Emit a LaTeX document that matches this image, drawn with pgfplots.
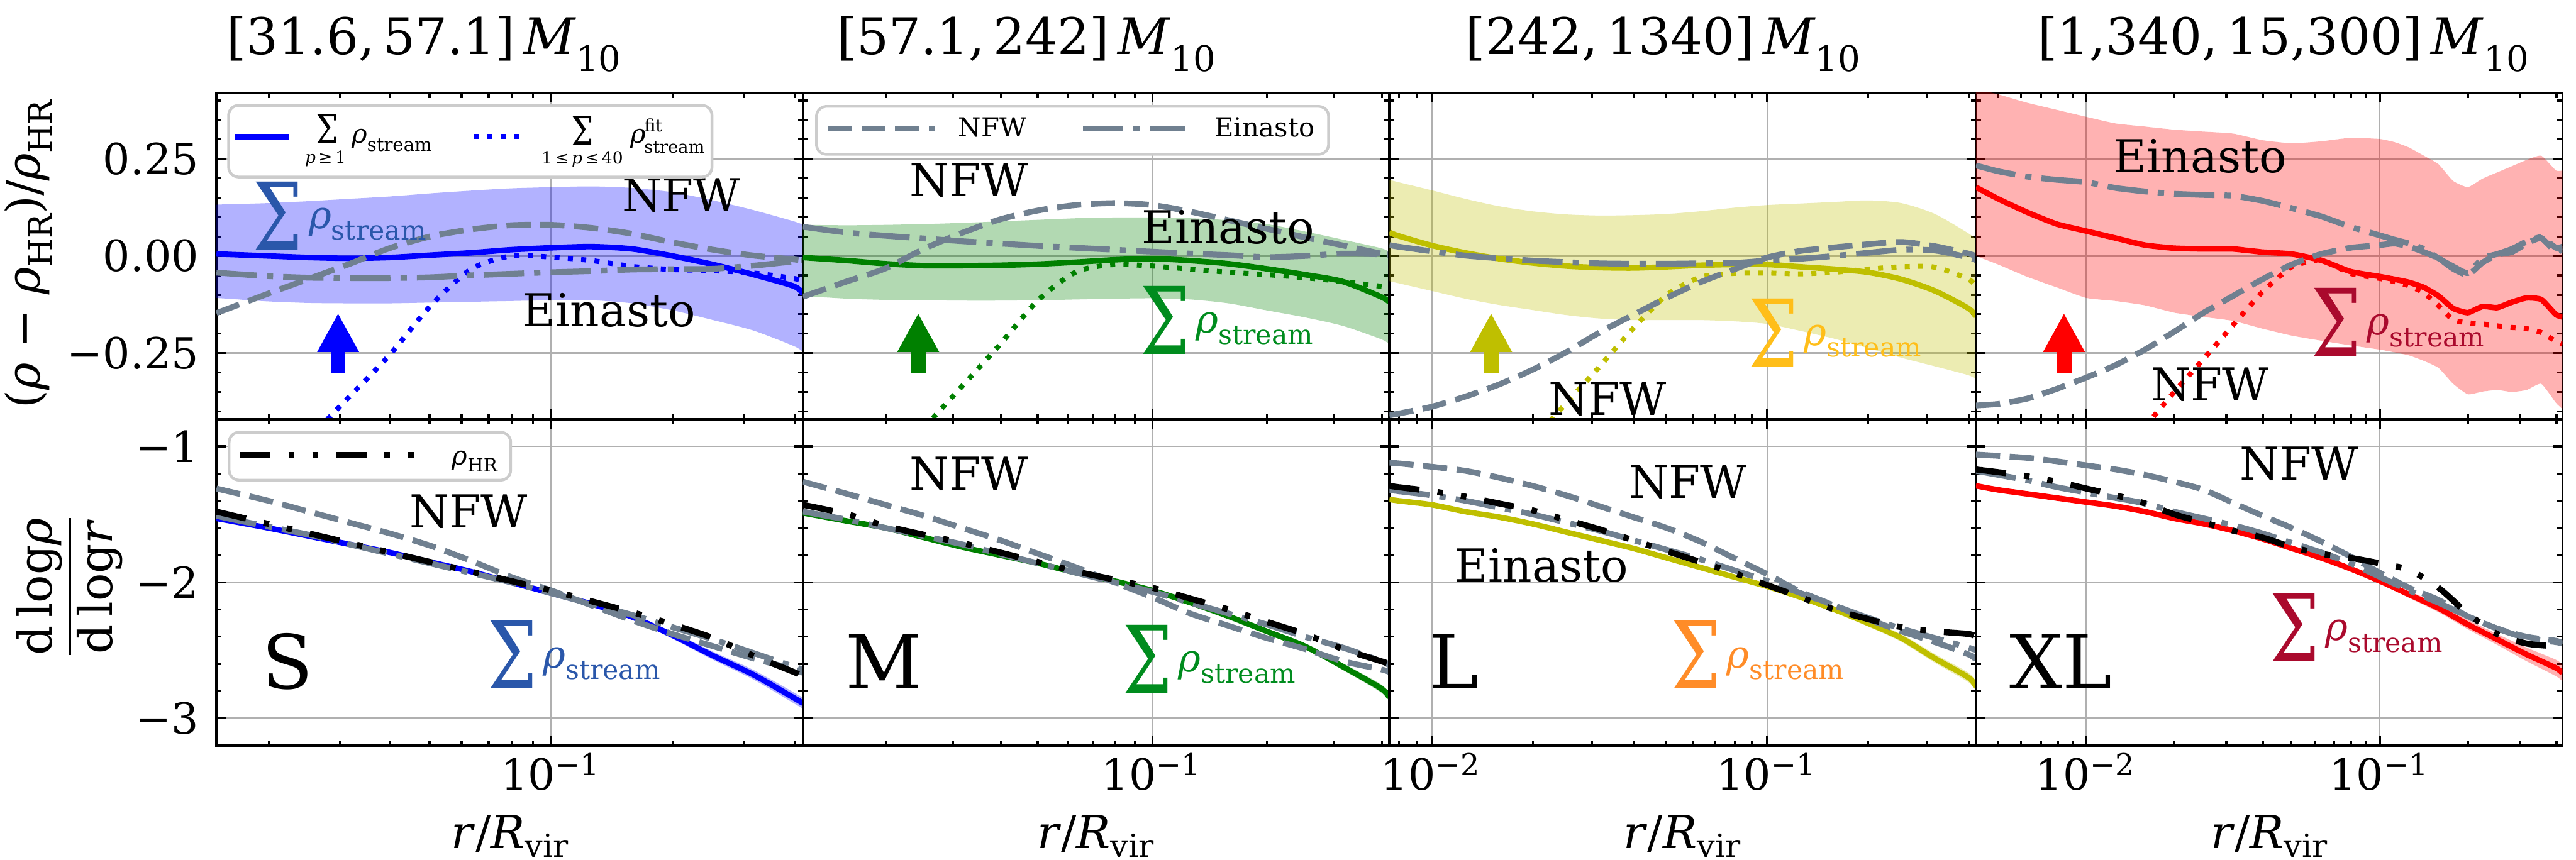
\documentclass[border=0pt]{standalone}
\usepackage{fontspec}
\setmainfont{DejaVu Serif}
\usepackage{graphicx}
\usepackage{pgfplots}
\pgfplotsset{compat=1.18}
\usepackage{pgfplotstable}
\usetikzlibrary{arrows.meta}

\definecolor{sgray}{RGB}{112,128,144}
\definecolor{cblue}{RGB}{0,0,255}
\definecolor{cgreen}{RGB}{0,128,0}
\definecolor{colive}{RGB}{191,191,0}
\definecolor{cred}{RGB}{255,0,0}
\definecolor{lblue}{RGB}{42,87,170}
\definecolor{lgreen}{RGB}{0,140,30}
\definecolor{lgold}{RGB}{255,190,25}
\definecolor{lorange}{RGB}{255,140,40}
\definecolor{lcrimson}{RGB}{170,10,45}
\definecolor{gridc}{RGB}{176,176,176}
\definecolor{legc}{RGB}{204,204,204}

\tikzset{
  nfw/.style={sgray, line width=1.15pt, dash pattern=on 4.8pt off 1.9pt},
  ein/.style={sgray, line width=1.15pt, dash pattern=on 8pt off 2pt on 1.25pt off 2pt},
  hr/.style={black, line width=1.2pt, dash pattern=on 6pt off 3.6pt on 1.1pt off 3.6pt on 1.1pt off 3.6pt},
  fitl/.style={line width=1.0pt, dash pattern=on 1pt off 1.65pt},
  suml/.style={line width=1.1pt},
  upar/.style={line width=2.9pt, -{Triangle[width=7.7pt,length=7.7pt]}},
}

% relative density deviation, S bin
\pgfplotstableread{
x up lo sum fit nfw ein
0.01486 0.132 -0.108 0.005 nan -0.147 -0.043
0.01585 0.133 -0.110 0.004 nan -0.136 -0.045
0.01995 0.136 -0.117 0.000 nan -0.097 -0.052
0.02512 0.141 -0.121 -0.004 -0.470 -0.059 -0.056
0.03162 0.147 -0.122 -0.006 -0.363 -0.021 -0.057
0.03981 0.153 -0.122 -0.004 -0.255 0.020 -0.057
0.05012 0.161 -0.120 0.002 -0.130 0.050 -0.055
0.06310 0.168 -0.118 0.008 -0.035 0.068 -0.050
0.07943 0.174 -0.116 0.016 0.000 0.079 -0.046
0.1000 0.177 -0.114 0.021 -0.003 0.080 -0.042
0.1259 0.179 -0.114 0.024 -0.012 0.072 -0.039
0.1585 0.175 -0.122 0.018 -0.027 0.057 -0.035
0.1995 0.164 -0.140 0.000 -0.035 0.035 -0.034
0.2512 0.143 -0.165 -0.022 -0.038 0.016 -0.033
0.3162 0.118 -0.192 -0.048 -0.044 0.001 -0.025
0.3981 0.089 -0.232 -0.078 -0.058 -0.009 -0.014
0.4190 0.080 -0.247 -0.098 -0.065 -0.012 -0.011
}\ponetop

% logarithmic slope, S bin
\pgfplotstableread{
x sum hw hr nfw ein
0.01486 -1.530 0.015 -1.48 -1.31 -1.51
0.01585 -1.545 0.015 -1.50 -1.33 -1.53
0.01995 -1.600 0.015 -1.57 -1.40 -1.59
0.02512 -1.660 0.015 -1.64 -1.48 -1.65
0.03162 -1.720 0.015 -1.71 -1.56 -1.72
0.03981 -1.780 0.015 -1.78 -1.64 -1.79
0.05012 -1.850 0.015 -1.85 -1.73 -1.86
0.06310 -1.920 0.015 -1.92 -1.84 -1.93
0.07943 -2.000 0.015 -1.99 -1.96 -2.00
0.1000 -2.080 0.016 -2.06 -2.06 -2.08
0.1259 -2.160 0.018 -2.14 -2.17 -2.16
0.1585 -2.255 0.020 -2.22 -2.28 -2.24
0.1995 -2.390 0.025 -2.31 -2.38 -2.33
0.2512 -2.540 0.030 -2.41 -2.47 -2.42
0.3162 -2.680 0.035 -2.54 -2.56 -2.52
0.3981 -2.850 0.040 -2.66 -2.64 -2.62
0.4190 -2.890 0.040 -2.69 -2.67 -2.64
}\ponebot

% M bin
\pgfplotstableread{
x up lo sum fit nfw ein
0.01211 0.080 -0.103 -0.004 nan -0.105 0.075
0.01585 0.079 -0.110 -0.012 nan -0.065 0.060
0.01995 0.080 -0.113 -0.020 nan -0.032 0.052
0.02512 0.082 -0.114 -0.025 -0.443 0.018 0.045
0.03162 0.085 -0.115 -0.025 -0.336 0.059 0.038
0.03981 0.089 -0.115 -0.024 -0.228 0.094 0.032
0.05012 0.093 -0.114 -0.021 -0.114 0.117 0.026
0.06310 0.097 -0.112 -0.016 -0.041 0.131 0.021
0.07943 0.099 -0.110 -0.010 -0.022 0.136 0.016
0.1000 0.099 -0.109 -0.007 -0.026 0.131 0.011
0.1259 0.097 -0.112 -0.012 -0.034 0.114 0.006
0.1585 0.092 -0.122 -0.020 -0.042 0.092 0.002
0.1995 0.082 -0.140 -0.033 -0.048 0.070 -0.003
0.2512 0.063 -0.158 -0.048 -0.056 0.048 0.000
0.3162 0.042 -0.180 -0.066 -0.066 0.027 0.006
0.3981 0.020 -0.214 -0.105 -0.078 0.006 0.004
0.4190 0.010 -0.227 -0.119 -0.081 0.000 0.003
}\ptwotop

\pgfplotstableread{
x sum hw hr nfw ein
0.01211 -1.49 0.012 -1.43 -1.26 -1.48
0.01585 -1.55 0.012 -1.50 -1.35 -1.54
0.01995 -1.60 0.012 -1.585 -1.43 -1.60
0.02512 -1.67 0.012 -1.65 -1.51 -1.66
0.03162 -1.74 0.012 -1.71 -1.60 -1.72
0.03981 -1.80 0.012 -1.78 -1.69 -1.79
0.05012 -1.86 0.012 -1.85 -1.79 -1.86
0.06310 -1.93 0.012 -1.92 -1.89 -1.93
0.07943 -1.99 0.012 -1.98 -2.00 -2.00
0.1000 -2.06 0.013 -2.04 -2.11 -2.07
0.1259 -2.15 0.015 -2.12 -2.23 -2.15
0.1585 -2.25 0.017 -2.20 -2.32 -2.23
0.1995 -2.36 0.020 -2.29 -2.41 -2.31
0.2512 -2.47 0.022 -2.38 -2.49 -2.40
0.3162 -2.62 0.025 -2.49 -2.58 -2.48
0.3981 -2.78 0.030 -2.58 -2.64 -2.58
0.4190 -2.85 0.030 -2.60 -2.66 -2.61
}\ptwobot

% L bin
\pgfplotstableread{
x up lo sum fit nfw ein
0.00748 0.196 -0.065 0.061 nan -0.410 0.028
0.007943 0.190 -0.070 0.052 nan -0.406 0.024
0.01000 0.169 -0.090 0.027 nan -0.388 0.012
0.01259 0.147 -0.110 0.008 nan -0.362 0.001
0.01585 0.128 -0.126 -0.007 nan -0.331 -0.006
0.01995 0.115 -0.139 -0.018 -0.475 -0.293 -0.012
0.02512 0.107 -0.152 -0.026 -0.380 -0.248 -0.016
0.03162 0.104 -0.161 -0.030 -0.285 -0.197 -0.019
0.03981 0.105 -0.165 -0.031 -0.187 -0.152 -0.020
0.05012 0.108 -0.165 -0.028 -0.101 -0.108 -0.020
0.06310 0.115 -0.165 -0.024 -0.055 -0.068 -0.019
0.07943 0.124 -0.168 -0.022 -0.045 -0.035 -0.018
0.1000 0.131 -0.175 -0.022 -0.044 -0.004 -0.012
0.1259 0.135 -0.193 -0.028 -0.046 0.013 -0.007
0.1585 0.139 -0.213 -0.034 -0.042 0.022 0.000
0.1995 0.143 -0.237 -0.042 -0.034 0.030 0.008
0.2512 0.136 -0.262 -0.060 -0.028 0.036 0.016
0.3162 0.108 -0.284 -0.090 -0.029 0.025 0.014
0.3981 0.058 -0.307 -0.135 -0.060 0.006 -0.004
0.4190 0.042 -0.318 -0.157 -0.081 -0.001 -0.011
}\pthreetop

\pgfplotstableread{
x sum hw hr nfw ein
0.00748 -1.39 0.015 -1.29 -1.12 -1.32
0.007943 -1.40 0.015 -1.30 -1.125 -1.33
0.01000 -1.43 0.015 -1.33 -1.15 -1.36
0.01259 -1.48 0.015 -1.37 -1.18 -1.40
0.01585 -1.52 0.015 -1.42 -1.23 -1.45
0.01995 -1.57 0.015 -1.47 -1.29 -1.50
0.02512 -1.63 0.015 -1.54 -1.36 -1.56
0.03162 -1.69 0.015 -1.61 -1.44 -1.62
0.03981 -1.75 0.015 -1.69 -1.52 -1.69
0.05012 -1.82 0.015 -1.77 -1.60 -1.76
0.06310 -1.89 0.015 -1.85 -1.70 -1.83
0.07943 -1.96 0.015 -1.93 -1.82 -1.91
0.1000 -2.03 0.016 -2.02 -1.94 -1.99
0.1259 -2.11 0.018 -2.11 -2.07 -2.08
0.1585 -2.20 0.020 -2.20 -2.17 -2.17
0.1995 -2.30 0.024 -2.27 -2.27 -2.26
0.2512 -2.41 0.028 -2.33 -2.36 -2.34
0.3162 -2.56 0.032 -2.36 -2.44 -2.41
0.3981 -2.70 0.035 -2.38 -2.53 -2.48
0.4190 -2.77 0.035 -2.40 -2.57 -2.50
}\pthreebot

% XL bin
\pgfplotstableread{
x up lo sum fit nfw ein
0.00421 0.430 0.000 0.177 nan -0.385 0.233
0.005012 0.416 -0.022 0.147 nan -0.381 0.218
0.00631 0.394 -0.054 0.112 nan -0.367 0.204
0.007943 0.376 -0.081 0.082 nan -0.342 0.196
0.01000 0.358 -0.108 0.064 nan -0.313 0.190
0.01259 0.341 -0.116 0.046 nan -0.281 0.175
0.01585 0.333 -0.127 0.028 -0.440 -0.241 0.166
0.01995 0.325 -0.146 0.020 -0.350 -0.195 0.160
0.02512 0.320 -0.157 0.018 -0.265 -0.146 0.157
0.03162 0.315 -0.167 0.018 -0.178 -0.103 0.155
0.03981 0.298 -0.187 0.010 -0.093 -0.060 0.142
0.05012 0.290 -0.205 0.005 -0.028 -0.022 0.123
0.06310 0.295 -0.218 -0.011 -0.010 0.005 0.102
0.07943 0.304 -0.230 -0.040 -0.045 0.021 0.075
0.1000 0.301 -0.241 -0.053 -0.058 0.028 0.053
0.1122 0.293 -0.248 -0.060 -0.066 0.032 0.042
0.1259 0.279 -0.256 -0.068 -0.077 0.024 0.032
0.1413 0.258 -0.270 -0.081 -0.095 0.010 0.018
0.1585 0.236 -0.288 -0.103 -0.128 -0.006 -0.006
0.1778 0.193 -0.329 -0.135 -0.165 -0.033 -0.027
0.1995 0.177 -0.356 -0.146 -0.172 -0.049 -0.044
0.2239 0.199 -0.349 -0.130 -0.175 -0.017 -0.006
0.2512 0.215 -0.345 -0.133 -0.180 0.003 0.005
0.2818 0.231 -0.350 -0.119 -0.184 0.010 0.018
0.3162 0.247 -0.345 -0.108 -0.187 0.032 0.037
0.3548 0.258 -0.329 -0.112 -0.197 0.046 0.048
0.3981 0.220 -0.378 -0.151 -0.220 0.010 0.021
0.4190 0.220 -0.394 -0.157 -0.227 0.018 0.024
}\pfourtop

\pgfplotstableread{
x sum hw hr nfw ein
0.00421 -1.29 0.02 -1.17 -1.06 -1.18
0.005012 -1.32 0.02 -1.19 -1.07 -1.21
0.00631 -1.35 0.02 -1.22 -1.085 -1.25
0.007943 -1.38 0.02 -1.26 -1.11 -1.30
0.01000 -1.41 0.02 -1.31 -1.14 -1.34
0.01259 -1.44 0.02 -1.36 -1.17 -1.38
0.01585 -1.48 0.02 -1.42 -1.21 -1.42
0.01995 -1.53 0.02 -1.50 -1.26 -1.48
0.02512 -1.57 0.02 -1.56 -1.32 -1.53
0.03162 -1.62 0.02 -1.62 -1.415 -1.58
0.03981 -1.68 0.02 -1.67 -1.51 -1.64
0.05012 -1.75 0.02 -1.74 -1.60 -1.71
0.06310 -1.82 0.02 -1.79 -1.70 -1.78
0.07943 -1.90 0.02 -1.82 -1.81 -1.86
0.1000 -1.99 0.02 -1.86 -1.93 -1.96
0.1259 -2.09 0.025 -1.91 -2.04 -2.06
0.1585 -2.19 0.03 -2.04 -2.13 -2.15
0.1995 -2.31 0.035 -2.23 -2.25 -2.25
0.2512 -2.42 0.04 -2.38 -2.34 -2.34
0.3162 -2.53 0.05 -2.45 -2.40 -2.41
0.3981 -2.63 0.06 -2.47 -2.43 -2.44
0.4190 -2.67 0.06 -2.47 -2.45 -2.45
}\pfourbot

% lowered, shrunk subscript
\newcommand\sub[2]{\raisebox{-#1}{\scalebox{0.7}{#2}}}
% large summation sign followed by rho_stream
\newcommand\sumrho{\raisebox{-4.2pt}{\scalebox{0.75}[1]{\fontsize{18.5}{18.5}\selectfont Σ}}\hspace{1.2pt}{\fontsize{7.6}{7.6}\selectfont\textit{ρ}\sub{0.3em}{stream}}}

% panel openers: #1 left edge, #2 xmin, #3 xtick list, #4 further keys
\newcommand\opentop[4]{\begin{axis}[
    scale only axis, width=116.23pt, height=64.7pt, anchor=south west,
    xmode=log, xmax=0.419, xmin=#2, at={(#1,87.3pt)},
    ymin=-0.42, ymax=0.42, ytick={-0.25,0,0.25},
    minor ytick={-0.4,-0.35,-0.3,-0.2,-0.15,-0.1,-0.05,0.05,0.1,0.15,0.2,0.3,0.35,0.4},
    xtick={#3},
    minor xtick={0.005,0.006,0.007,0.008,0.009,0.02,0.03,0.04,0.05,0.06,0.07,0.08,0.09,0.2,0.3,0.4},
    axis line style={line width=0.45pt},
    tick style={black, line width=0.4pt},
    major tick length=1.9pt, minor tick length=1pt,
    tick align=inside, xtick pos=both, ytick pos=both,
    grid=major, major grid style={gridc, line width=0.35pt},
    tick label style={font=\fontsize{8.5}{8.5}\selectfont},
    xticklabels={}, yticklabels={}, #4]}
\newcommand\openbot[4]{\begin{axis}[
    scale only axis, width=116.23pt, height=64.7pt, anchor=south west,
    xmode=log, xmax=0.419, xmin=#2, at={(#1,22.6pt)},
    ymin=-3.2, ymax=-0.8, ytick={-3,-2,-1},
    minor ytick={-2.8,-2.6,-2.4,-2.2,-1.8,-1.6,-1.4,-1.2},
    xtick={#3},
    minor xtick={0.005,0.006,0.007,0.008,0.009,0.02,0.03,0.04,0.05,0.06,0.07,0.08,0.09,0.2,0.3,0.4},
    axis line style={line width=0.45pt},
    tick style={black, line width=0.4pt},
    major tick length=1.9pt, minor tick length=1pt,
    tick align=inside, xtick pos=both, ytick pos=both,
    grid=major, major grid style={gridc, line width=0.35pt},
    tick label style={font=\fontsize{8.5}{8.5}\selectfont},
    xticklabel style={anchor=base, yshift=-8.8pt},
    yticklabels={}, #4]}

\begin{document}
\begin{tikzpicture}
\useasboundingbox (0pt,0pt) rectangle (510.5pt,170.4pt);

% ---------------- S ----------------
\opentop{42.9pt}{0.01486}{0.1}{yticklabels={−0.25,0.00,0.25}}
  \addplot[draw=none, stack plots=y, forget plot, smooth, tension=0.45] table[x=x,y=lo]{\ponetop};
  \addplot[fill=cblue, fill opacity=0.3, draw=none, stack plots=y, smooth, tension=0.45] table[x=x,y expr=\thisrow{up}-\thisrow{lo}]{\ponetop} \closedcycle;
  \addplot[cblue, suml, smooth, tension=0.45] table[x=x,y=sum]{\ponetop};
  \addplot[cblue, fitl, smooth, tension=0.45] table[x=x,y=fit]{\ponetop};
  \addplot[nfw, smooth, tension=0.45] table[x=x,y=nfw]{\ponetop};
  \addplot[ein, smooth, tension=0.45] table[x=x,y=ein]{\ponetop};
  \draw[cblue, upar] (axis cs:0.0297,-0.303) -- (axis cs:0.0297,-0.147);
\end{axis}
\openbot{42.9pt}{0.01486}{0.1}{xticklabels={10\textsuperscript{−1}}, yticklabels={−3,−2,−1}}
  \addplot[draw=none, stack plots=y, forget plot, smooth] table[x=x,y expr=\thisrow{sum}-\thisrow{hw}]{\ponebot};
  \addplot[fill=cblue, fill opacity=0.3, draw=none, stack plots=y, smooth] table[x=x,y expr=2*\thisrow{hw}]{\ponebot} \closedcycle;
  \addplot[cblue, suml, smooth] table[x=x,y=sum]{\ponebot};
  \addplot[nfw, smooth] table[x=x,y=nfw]{\ponebot};
  \addplot[ein, smooth] table[x=x,y=ein]{\ponebot};
  \addplot[hr, smooth] table[x=x,y=hr]{\ponebot};
\end{axis}

% ---------------- M ----------------
\opentop{159.125pt}{0.01211}{0.1}{}
  \addplot[draw=none, stack plots=y, forget plot, smooth, tension=0.45] table[x=x,y=lo]{\ptwotop};
  \addplot[fill=cgreen, fill opacity=0.3, draw=none, stack plots=y, smooth, tension=0.45] table[x=x,y expr=\thisrow{up}-\thisrow{lo}]{\ptwotop} \closedcycle;
  \addplot[cgreen, suml, smooth, tension=0.45] table[x=x,y=sum]{\ptwotop};
  \addplot[cgreen, fitl, smooth, tension=0.45] table[x=x,y=fit]{\ptwotop};
  \addplot[nfw, smooth, tension=0.45] table[x=x,y=nfw]{\ptwotop};
  \addplot[ein, smooth, tension=0.45] table[x=x,y=ein]{\ptwotop};
  \draw[cgreen, upar] (axis cs:0.0243,-0.303) -- (axis cs:0.0243,-0.147);
\end{axis}
\openbot{159.125pt}{0.01211}{0.1}{xticklabels={10\textsuperscript{−1}}}
  \addplot[draw=none, stack plots=y, forget plot, smooth] table[x=x,y expr=\thisrow{sum}-\thisrow{hw}]{\ptwobot};
  \addplot[fill=cgreen, fill opacity=0.3, draw=none, stack plots=y, smooth] table[x=x,y expr=2*\thisrow{hw}]{\ptwobot} \closedcycle;
  \addplot[cgreen, suml, smooth] table[x=x,y=sum]{\ptwobot};
  \addplot[nfw, smooth] table[x=x,y=nfw]{\ptwobot};
  \addplot[ein, smooth] table[x=x,y=ein]{\ptwobot};
  \addplot[hr, smooth] table[x=x,y=hr]{\ptwobot};
\end{axis}

% ---------------- L ----------------
\opentop{275.35pt}{0.00748}{0.01,0.1}{}
  \addplot[draw=none, stack plots=y, forget plot, smooth, tension=0.45] table[x=x,y=lo]{\pthreetop};
  \addplot[fill=colive, fill opacity=0.3, draw=none, stack plots=y, smooth, tension=0.45] table[x=x,y expr=\thisrow{up}-\thisrow{lo}]{\pthreetop} \closedcycle;
  \addplot[colive, suml, smooth, tension=0.45] table[x=x,y=sum]{\pthreetop};
  \addplot[colive, fitl, smooth, tension=0.45] table[x=x,y=fit]{\pthreetop};
  \addplot[nfw, smooth, tension=0.45] table[x=x,y=nfw]{\pthreetop};
  \addplot[ein, smooth, tension=0.45] table[x=x,y=ein]{\pthreetop};
  \draw[colive, upar] (axis cs:0.01503,-0.303) -- (axis cs:0.01503,-0.147);
\end{axis}
\openbot{275.35pt}{0.00748}{0.01,0.1}{xticklabels={10\textsuperscript{−2},10\textsuperscript{−1}}}
  \addplot[draw=none, stack plots=y, forget plot, smooth] table[x=x,y expr=\thisrow{sum}-\thisrow{hw}]{\pthreebot};
  \addplot[fill=colive, fill opacity=0.3, draw=none, stack plots=y, smooth] table[x=x,y expr=2*\thisrow{hw}]{\pthreebot} \closedcycle;
  \addplot[colive, suml, smooth] table[x=x,y=sum]{\pthreebot};
  \addplot[nfw, smooth] table[x=x,y=nfw]{\pthreebot};
  \addplot[ein, smooth] table[x=x,y=ein]{\pthreebot};
  \addplot[hr, smooth] table[x=x,y=hr]{\pthreebot};
\end{axis}

% ---------------- XL ----------------
\opentop{391.575pt}{0.00421}{0.01,0.1}{}
  \addplot[draw=none, stack plots=y, forget plot, smooth, tension=0.3] table[x=x,y=lo]{\pfourtop};
  \addplot[fill=cred, fill opacity=0.3, draw=none, stack plots=y, smooth, tension=0.3] table[x=x,y expr=\thisrow{up}-\thisrow{lo}]{\pfourtop} \closedcycle;
  \addplot[cred, suml, smooth, tension=0.3] table[x=x,y=sum]{\pfourtop};
  \addplot[cred, fitl, smooth, tension=0.3] table[x=x,y=fit]{\pfourtop};
  \addplot[nfw, smooth, tension=0.3] table[x=x,y=nfw]{\pfourtop};
  \addplot[ein, smooth, tension=0.3] table[x=x,y=ein]{\pfourtop};
  \draw[cred, upar] (axis cs:0.0084,-0.303) -- (axis cs:0.0084,-0.147);
\end{axis}
\openbot{391.575pt}{0.00421}{0.01,0.1}{xticklabels={10\textsuperscript{−2},10\textsuperscript{−1}}}
  \addplot[draw=none, stack plots=y, forget plot, smooth] table[x=x,y expr=\thisrow{sum}-\thisrow{hw}]{\pfourbot};
  \addplot[fill=cred, fill opacity=0.3, draw=none, stack plots=y, smooth] table[x=x,y expr=2*\thisrow{hw}]{\pfourbot} \closedcycle;
  \addplot[cred, suml, smooth] table[x=x,y=sum]{\pfourbot};
  \addplot[nfw, smooth] table[x=x,y=nfw]{\pfourbot};
  \addplot[ein, smooth] table[x=x,y=ein]{\pfourbot};
  \addplot[hr, smooth] table[x=x,y=hr]{\pfourbot};
\end{axis}

% column titles
\begin{scope}[every node/.style={anchor=base, inner sep=0pt, font=\fontsize{10}{12}\selectfont}]
  \node at (84.0pt,159.6pt) {[31.6,\,57.1]\,\textit{M}\raisebox{-3.3pt}{\fontsize{7}{7}\selectfont 10}};
  \node at (203.4pt,159.6pt) {[57.1,\,242]\,\textit{M}\raisebox{-3.3pt}{\fontsize{7}{7}\selectfont 10}};
  \node at (329.6pt,159.6pt) {[242,\,1340]\,\textit{M}\raisebox{-3.3pt}{\fontsize{7}{7}\selectfont 10}};
  \node at (452.5pt,159.6pt) {[1,340,\,15,300]\,\textit{M}\raisebox{-3.3pt}{\fontsize{7}{7}\selectfont 10}};
\end{scope}

% axis labels
\begin{scope}[every node/.style={anchor=base, inner sep=0pt, font=\fontsize{9}{9}\selectfont}]
  \node at (101.05pt,2.2pt) {\textit{r}/\textit{R}\sub{0.2em}{vir}};
  \node at (217.1pt,2.2pt) {\textit{r}/\textit{R}\sub{0.2em}{vir}};
  \node at (333.35pt,2.2pt) {\textit{r}/\textit{R}\sub{0.2em}{vir}};
  \node at (449.65pt,2.2pt) {\textit{r}/\textit{R}\sub{0.2em}{vir}};
\end{scope}
\node[rotate=90, inner sep=0pt, font=\fontsize{9.2}{9.2}\selectfont] at (5.6pt,120.0pt)
  {(\textit{ρ} − \textit{ρ}\sub{0.25em}{HR})/\textit{ρ}\sub{0.25em}{HR}};
\node[rotate=90, inner sep=0pt, font=\fontsize{9.2}{9.2}\selectfont] at (13.8pt,54.1pt)
  {$\displaystyle\frac{\mbox{d\,log\textit{ρ}}}{\mbox{d\,log\textit{r}}}$};

% curve annotations
\begin{scope}[every node/.style={anchor=base, inner sep=0pt, font=\fontsize{9}{9}\selectfont}]
  \node at (135.0pt,128.4pt) {NFW};
  \node at (120.7pt,105.6pt) {Einasto};
  \node at (192.0pt,131.5pt) {NFW};
  \node at (243.4pt,122.1pt) {Einasto};
  \node at (318.6pt,88.1pt) {NFW};
  \node at (436.0pt,136.2pt) {Einasto};
  \node at (438.0pt,91.0pt) {NFW};
  \node at (92.9pt,65.8pt) {NFW};
  \node at (192.0pt,73.2pt) {NFW};
  \node at (334.5pt,71.6pt) {NFW};
  \node at (305.5pt,55.0pt) {Einasto};
  \node at (455.6pt,75.3pt) {NFW};
\end{scope}
\begin{scope}[every node/.style={anchor=base, inner sep=0pt, font=\fontsize{14.8}{14.8}\selectfont}]
  \node at (57.0pt,33.8pt) {S};
  \node at (175.2pt,33.8pt) {M};
  \node at (288.2pt,33.8pt) {L};
  \node at (408.4pt,33.8pt) {XL};
\end{scope}
\begin{scope}[every node/.style={anchor=base west, inner sep=0pt}]
  \node[text=lblue] at (50.0pt,125.1pt) {\sumrho};
  \node[text=lblue] at (96.4pt,38.0pt) {\sumrho};
  \node[text=lgreen] at (225.8pt,104.4pt) {\sumrho};
  \node[text=lgreen] at (222.3pt,37.2pt) {\sumrho};
  \node[text=lgold] at (346.3pt,101.9pt) {\sumrho};
  \node[text=lorange] at (331.0pt,38.0pt) {\sumrho};
  \node[text=lcrimson] at (457.9pt,104.0pt) {\sumrho};
  \node[text=lcrimson] at (449.6pt,43.4pt) {\sumrho};
\end{scope}

% legend: stream sums
\draw[legc, line width=0.55pt, fill=white, rounded corners=2pt] (45.3pt,135.3pt) rectangle (141.1pt,149.5pt);
\draw[cblue, suml] (46.6pt,143.3pt) -- (57.2pt,143.3pt);
\draw[cblue, fitl] (93.9pt,143.3pt) -- (103.6pt,143.3pt);
\begin{scope}[every node/.style={inner sep=0pt}]
  \node[anchor=base west] at (62.4pt,141.9pt) {\scalebox{0.78}[1]{\fontsize{8}{8}\selectfont Σ}};
  \node[anchor=base, font=\fontsize{3.3}{3.3}\selectfont] at (64.5pt,138.1pt) {\textit{p}\,≥\,1};
  \node[anchor=base west, font=\fontsize{5.2}{5.2}\selectfont] at (69.5pt,142.0pt) {\textit{ρ}\sub{0.3em}{stream}};
  \node[anchor=base west] at (113.0pt,141.6pt) {\scalebox{0.78}[1]{\fontsize{8}{8}\selectfont Σ}};
  \node[anchor=base, font=\fontsize{3.3}{3.3}\selectfont] at (115.4pt,137.9pt) {1\,≤\,\textit{p}\,≤\,40};
  \node[anchor=base west, font=\fontsize{5.2}{5.2}\selectfont] at (124.8pt,142.0pt)
    {\textit{ρ}\hspace{-0.4pt}\rlap{\raisebox{2.3pt}{\fontsize{3.4}{3.4}\selectfont fit}}\raisebox{-1.9pt}{\fontsize{3.4}{3.4}\selectfont stream}};
\end{scope}

% legend: analytic profiles
\draw[legc, line width=0.55pt, fill=white, rounded corners=2pt] (161.8pt,139.8pt) rectangle (263.3pt,149.3pt);
\draw[nfw] (164.0pt,144.9pt) -- (185.2pt,144.9pt);
\draw[ein] (214.6pt,144.9pt) -- (234.9pt,144.9pt);
\node[anchor=base west, inner sep=0pt, font=\fontsize{5.2}{5.2}\selectfont] at (189.7pt,143.3pt) {NFW};
\node[anchor=base west, inner sep=0pt, font=\fontsize{5.2}{5.2}\selectfont] at (240.5pt,143.3pt) {Einasto};

% legend: high-resolution reference
\draw[legc, line width=0.55pt, fill=white, rounded corners=2pt] (45.4pt,75.2pt) rectangle (101.2pt,84.7pt);
\draw[hr] (47.6pt,80.2pt) -- (82.1pt,80.2pt);
\node[anchor=base west, inner sep=0pt, font=\fontsize{5.2}{5.2}\selectfont] at (89.4pt,78.2pt) {\textit{ρ}\sub{0.25em}{HR}};
\end{tikzpicture}
\end{document}
